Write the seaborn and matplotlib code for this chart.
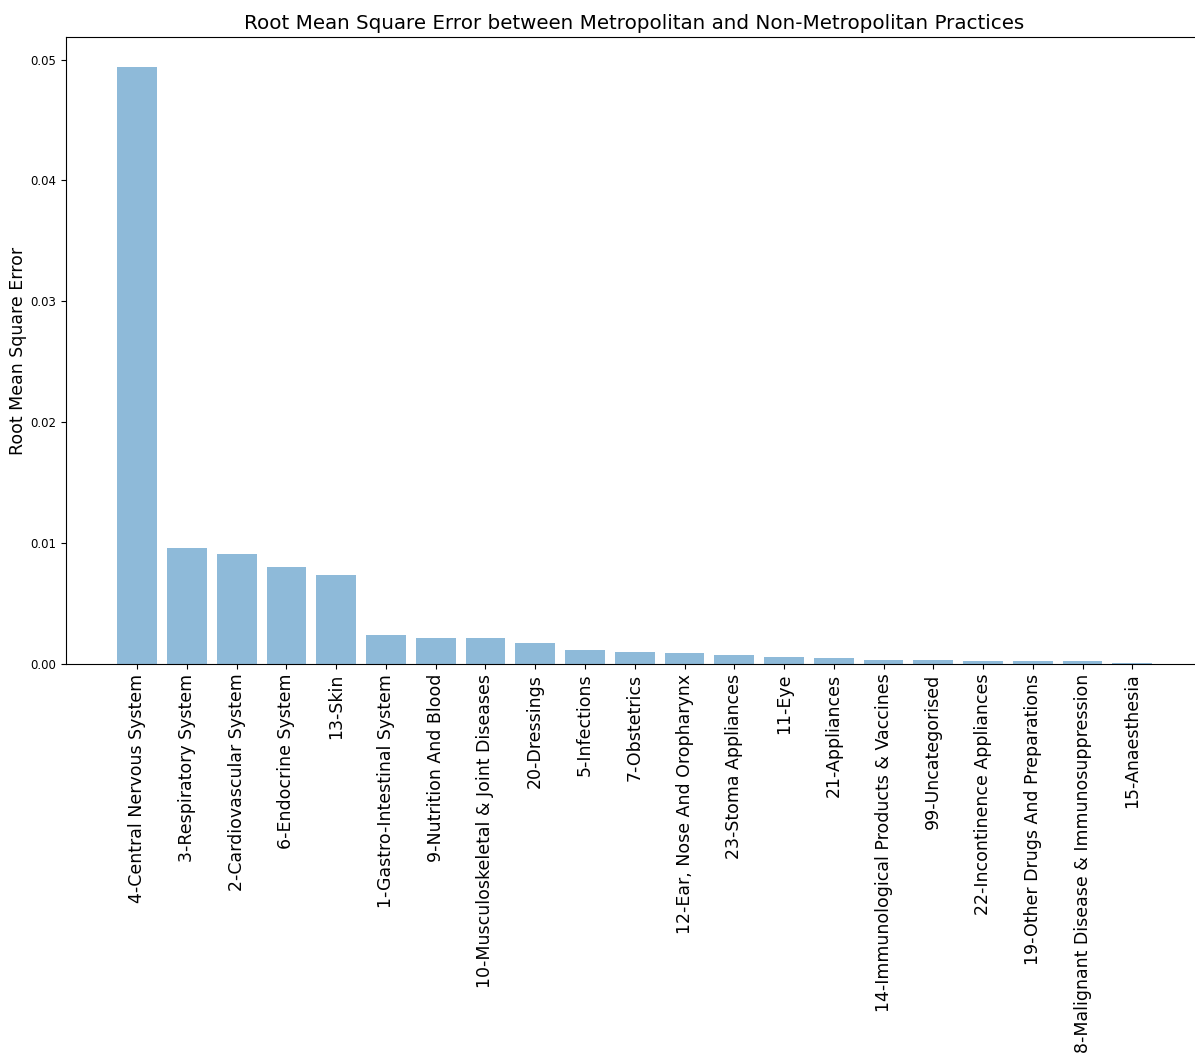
import matplotlib
matplotlib.use("Agg")
import matplotlib.pyplot as plt
import seaborn as sns
import pandas as pd

categories = [
    "4-Central Nervous System", "3-Respiratory System", "2-Cardiovascular System",
    "6-Endocrine System", "13-Skin", "1-Gastro-Intestinal System",
    "9-Nutrition And Blood", "10-Musculoskeletal & Joint Diseases", "20-Dressings",
    "5-Infections", "7-Obstetrics", "12-Ear, Nose And Oropharynx",
    "23-Stoma Appliances", "11-Eye", "21-Appliances",
    "14-Immunological Products & Vaccines", "99-Uncategorised",
    "22-Incontinence Appliances", "19-Other Drugs And Preparations",
    "8-Malignant Disease & Immunosuppression", "15-Anaesthesia",
]
rmse = [
    0.0494, 0.00962, 0.00909, 0.00806, 0.00734, 0.00239,
    0.00214, 0.00214, 0.00175, 0.00119, 0.00102, 0.00093,
    0.00074, 0.00055, 0.00047, 0.00031, 0.00030,
    0.00022, 0.00022, 0.00021, 0.00011,
]

df = pd.DataFrame({"category": categories, "rmse": rmse})

fig = plt.figure(figsize=(11.95, 10.56), dpi=100)
ax = fig.add_axes([66 / 1195, 1 - 664 / 1056, 1136 / 1195, (664 - 37) / 1056])

sns.barplot(data=df, x="category", y="rmse", color="#1f77b4", alpha=0.5,
            saturation=1, width=0.8, linewidth=0, ax=ax, errorbar=None)

ax.set_xlim(-1.43, 21.4)
ax.set_ylim(0, 0.0494 * 1.05)
ax.set_yticks([0.0, 0.01, 0.02, 0.03, 0.04, 0.05])
ax.set_yticklabels(["0.00", "0.01", "0.02", "0.03", "0.04", "0.05"], fontsize=8.5)
ax.set_xticks(range(len(categories)))
ax.set_xticklabels(categories, rotation=90, fontsize=12.5)
ax.set_xlabel("")
ax.set_ylabel("Root Mean Square Error", fontsize=12.5, labelpad=2)
ax.set_title("Root Mean Square Error between Metropolitan and Non-Metropolitan Practices",
             fontsize=14.3)

fig.savefig("out.png", dpi=100)
